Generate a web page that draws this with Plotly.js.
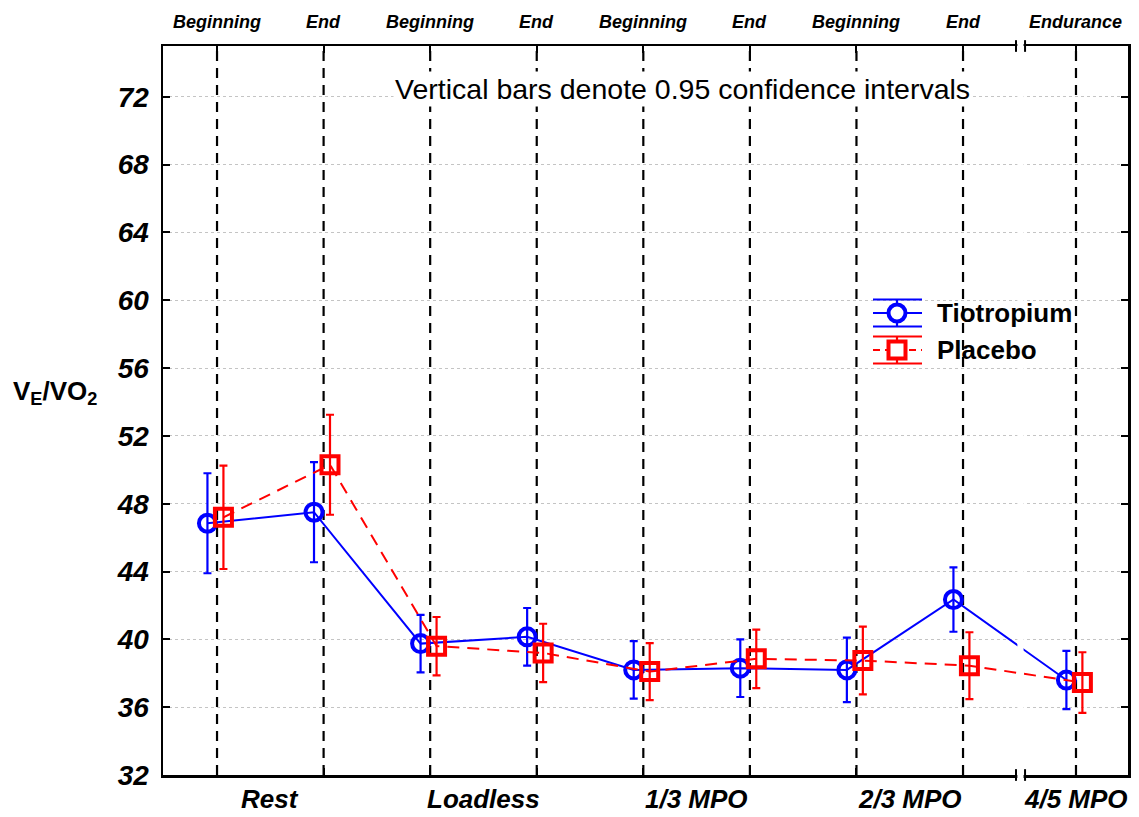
<!DOCTYPE html>
<html>
<head>
<meta charset="utf-8">
<script src="https://cdn.plot.ly/plotly-3.0.1.min.js"></script>
<style>html,body{margin:0;padding:0;background:#fff;}#chart{width:1139px;height:817px;}</style>
</head>
<body>
<div id="chart"></div>
<script>
// ---- data ----
const phases = ['Beginning','End','Beginning','End','Beginning','End','Beginning','End','Endurance'];
const groups = ['Rest','Loadless','1/3 MPO','2/3 MPO','4/5 MPO'];
const tiotropium    = [46.85, 47.5, 39.75, 40.15, 38.2, 38.3, 38.2, 42.35, 37.6];
const tiotropiumErr = [2.95, 2.95, 1.7, 1.7, 1.7, 1.7, 1.9, 1.9, 1.72];
const placebo       = [47.2, 50.3, 39.6, 39.2, 38.1, 38.85, 38.75, 38.45, 37.45];
const placeboErr    = [3.05, 2.95, 1.72, 1.72, 1.68, 1.72, 2.0, 1.97, 1.79];
const yTicks = [32, 36, 40, 44, 48, 52, 56, 60, 64, 68, 72];
const seriesNames = ['Tiotropium', 'Placebo'];

// ---- layout helpers ----
const W = 1139, H = 817, ML = 163, MR = 11, MT = 46, MB = 42;
const PW = W - ML - MR, PH = H - MT - MB;
const px = v => (v - ML) / PW;          // pixel x -> paper
const py = v => (H - MB - v) / PH;      // pixel y -> paper

const breakGap = 0.06;
const xPos = phases.map((p, i) => i < 8 ? i : i + breakGap);
const groupPos = [0.5, 2.5, 4.5, 6.5, xPos[8]];
const offT = -0.09, offP = 0.06;
const FONT = 'Arial, "Liberation Sans", sans-serif';
const BLUE = '#0000ff', RED = '#ff0000';

const traces = [
  {
    name: seriesNames[0], type: 'scatter', mode: 'lines+markers', showlegend: false,
    x: xPos.map(v => v + offT), y: tiotropium,
    line: {color: BLUE, width: 2},
    marker: {symbol: 'circle-open', size: 17, color: BLUE, line: {width: 4, color: BLUE}},
    error_y: {type: 'data', array: tiotropiumErr, visible: true, color: BLUE, thickness: 2.2, width: 4}
  },
  {
    name: seriesNames[1], type: 'scatter', mode: 'lines+markers', showlegend: false,
    x: xPos.map(v => v + offP), y: placebo,
    line: {color: RED, width: 2, dash: '12px,8px'},
    marker: {symbol: 'square-open', size: 17, color: RED, line: {width: 4, color: RED}},
    error_y: {type: 'data', array: placeboErr, visible: true, color: RED, thickness: 2.2, width: 4}
  }
];

const shapes = [];
xPos.forEach(v => shapes.push({
  type: 'line', xref: 'x', yref: 'paper', x0: v, x1: v, y0: 0, y1: 1,
  line: {color: '#000', width: 2.2, dash: '10px,7px'}, layer: 'below'
}));
// axis break
shapes.push({type: 'rect', xref: 'x', yref: 'paper', x0: 7.51, x1: 7.568, y0: -0.01, y1: 1.01,
  fillcolor: '#fff', line: {width: 0}, layer: 'above'});
[7.497, 7.582].forEach(v => {
  [0, 1].forEach(yy => shapes.push({type: 'line', xref: 'x', yref: 'paper', x0: v, x1: v,
    y0: yy - 0.008, y1: yy + 0.008, line: {color: '#000', width: 2}, layer: 'above'}));
});

// ---- custom legend (symbol with error bars, as in the reference) ----
const legX0 = 873, legX1 = 922, legXc = 897;
const legRows = [313, 350];
const legColors = [BLUE, RED];
legRows.forEach((cy, k) => {
  const c = legColors[k];
  [cy - 13.5, cy + 13.5].forEach(yy => shapes.push({type: 'line', xref: 'paper', yref: 'paper',
    x0: px(legX0), x1: px(legX1), y0: py(yy), y1: py(yy), line: {color: c, width: 2.2}, layer: 'above'}));
  shapes.push({type: 'line', xref: 'paper', yref: 'paper', x0: px(legXc), x1: px(legXc),
    y0: py(cy - 13.5), y1: py(cy + 13.5), line: {color: c, width: 2.2}, layer: 'above'});
  shapes.push({type: 'line', xref: 'paper', yref: 'paper', x0: px(legX0), x1: px(legX1),
    y0: py(cy), y1: py(cy), line: {color: c, width: 2, dash: k === 1 ? '7px,5px' : 'solid'}, layer: 'above'});
  shapes.push({type: k === 0 ? 'circle' : 'rect', xref: 'paper', yref: 'paper',
    x0: px(legXc - 8.5), x1: px(legXc + 8.5), y0: py(cy + 8.5), y1: py(cy - 8.5),
    fillcolor: '#fff', line: {color: c, width: 4}, layer: 'above'});
});

const annotations = [];
seriesNames.forEach((n, k) => annotations.push({
  text: n, xref: 'paper', yref: 'paper', x: px(935), xanchor: 'left', y: py(legRows[k]), yanchor: 'middle',
  showarrow: false, font: {family: FONT, size: 26, color: '#000', weight: 'bold'}
}));
phases.forEach((p, i) => annotations.push({
  text: p, xref: 'x', yref: 'paper', x: xPos[i], y: 1, yanchor: 'middle', yshift: 24,
  showarrow: false, font: {family: FONT, size: 18, color: '#000', weight: 'bold', style: 'italic'}
}));
groups.forEach((g, i) => annotations.push({
  text: g, xref: 'x', yref: 'paper', x: groupPos[i], y: 0, yanchor: 'middle', yshift: -24,
  showarrow: false, font: {family: FONT, size: 26, color: '#000', weight: 'bold', style: 'italic'}
}));
annotations.push({
  text: 'Vertical bars denote 0.95 confidence intervals', xref: 'x', yref: 'y',
  x: 4.37, y: 72.45, showarrow: false, bgcolor: '#fff',
  font: {family: FONT, size: 28.5, color: '#000'}
});
annotations.push({
  text: 'V<sub>E</sub>/VO<sub>2</sub>', xref: 'paper', yref: 'paper',
  x: px(11), xanchor: 'left', y: py(392), yanchor: 'middle', showarrow: false,
  font: {family: FONT, size: 26, color: '#000', weight: 'bold'}
});

const layout = {
  width: W, height: H,
  margin: {l: ML, r: MR, t: MT, b: MB},
  paper_bgcolor: '#fff', plot_bgcolor: '#fff',
  showlegend: false,
  xaxis: {
    range: [-0.507, 8.548], tickvals: xPos, showticklabels: false,
    ticks: 'inside', ticklen: 7, tickwidth: 2, tickcolor: '#000',
    showline: true, linecolor: '#000', linewidth: 2.5, mirror: 'ticks',
    showgrid: false, zeroline: false
  },
  yaxis: {
    range: [32, 75], tickvals: yTicks,
    ticks: 'inside', ticklen: 7, tickwidth: 2, tickcolor: '#000',
    showline: true, linecolor: '#000', linewidth: 2.5, mirror: 'ticks',
    showgrid: true, gridcolor: '#c4c4c4', gridwidth: 1, griddash: 'dot',
    zeroline: false, ticklabelstandoff: 6,
    tickfont: {family: FONT, size: 28, color: '#000', weight: 'bold', style: 'italic'}
  },
  shapes: shapes,
  annotations: annotations
};

Plotly.newPlot('chart', traces, layout, {displayModeBar: false, staticPlot: true});
</script>
</body>
</html>
